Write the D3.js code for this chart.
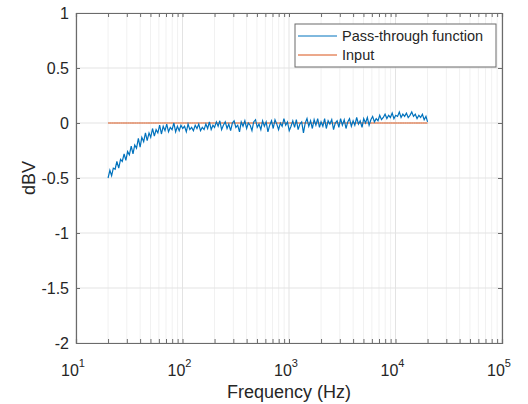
<!DOCTYPE html>
<html>
<head>
    <title></title>
    <script src="https://d3js.org/d3.v7.min.js"></script>
    <style>
        body { margin: 0; background: #fff; }
        text { font-family: Arial, 'Liberation Sans', sans-serif; fill: #262626; }
    </style>
</head>
<body>
    <svg width="528" height="404" id="svg1"></svg>
<script>
// frequencies (Hz) of the measured points
var freq = [
    20.0, 20.8, 21.6, 22.4, 23.3, 24.2, 25.2, 26.2, 27.2, 28.3,
    29.4, 30.5, 31.7, 33.0, 34.3, 35.6, 37.0, 38.5, 40.0, 41.5,
    43.2, 44.9, 46.6, 48.5, 50.3, 52.3, 54.4, 56.5, 58.7, 61.0,
    63.4, 65.9, 68.5, 71.1, 73.9, 76.8, 79.8, 83.0, 86.2, 89.6,
    93.1, 96.7, 100.5, 104.5, 108.6, 112.8, 117.2, 121.8, 126.6, 131.6,
    136.7, 142.1, 147.6, 153.4, 159.4, 165.7, 172.2, 178.9, 185.9, 193.2,
    200, 208, 216, 224, 233, 242, 252, 262, 272, 283,
    294, 305, 317, 330, 343, 356, 370, 385, 400, 415,
    432, 449, 466, 485, 503, 523, 544, 565, 587, 610,
    634, 659, 685, 711, 739, 768, 798, 830, 862, 896,
    931, 967, 1005, 1045, 1086, 1128, 1172, 1218, 1266, 1316,
    1367, 1421, 1476, 1534, 1594, 1657, 1722, 1789, 1859, 1932,
    2000, 2080, 2160, 2240, 2330, 2420, 2520, 2620, 2720, 2830,
    2940, 3050, 3170, 3300, 3430, 3560, 3700, 3850, 4000, 4150,
    4320, 4490, 4660, 4850, 5030, 5230, 5440, 5650, 5870, 6100,
    6340, 6590, 6850, 7110, 7390, 7680, 7980, 8300, 8620, 8960,
    9310, 9670, 10050, 10450, 10860, 11280, 11720, 12180, 12660, 13160,
    13670, 14210, 14760, 15340, 15940, 16570, 17220, 17890, 18590, 19320,
    20000
];

// pass-through function response (dBV)
var passThrough = [
    -0.50, -0.43, -0.48, -0.41, -0.42, -0.35, -0.41, -0.33, -0.35, -0.28,
    -0.34, -0.26, -0.29, -0.21, -0.28, -0.20, -0.23, -0.14, -0.22, -0.13,
    -0.17, -0.09, -0.16, -0.09, -0.13, -0.05, -0.12, -0.06, -0.09, -0.02,
    -0.10, -0.03, -0.07, -0.01, -0.08, -0.04, -0.06, 0.00, -0.08, -0.03,
    -0.07, -0.02, -0.05, -0.03, -0.08, -0.01, -0.06, -0.04, -0.07, -0.02,
    -0.05, -0.01, -0.07, -0.04, -0.06, -0.01, -0.05, 0.01, -0.06, -0.02,
    -0.04, 0.01, -0.03, 0.02, -0.06, -0.02, 0.01, -0.05, -0.01, -0.07,
    0.00, 0.02, -0.04, -0.02, -0.08, 0.01, -0.03, 0.02, -0.05, 0.00,
    -0.02, -0.07, 0.01, 0.03, -0.04, -0.01, -0.06, 0.02, -0.03, 0.01,
    -0.08, -0.02, 0.02, -0.05, 0.03, -0.01, -0.06, 0.00, -0.03, 0.04,
    -0.02, 0.01, -0.07, -0.03, 0.02, -0.04, 0.03, -0.06, -0.01, 0.01,
    -0.09, 0.00, 0.04, -0.03, 0.02, -0.05, 0.03, -0.02, 0.04, -0.04,
    0.01, -0.03, 0.04, -0.05, 0.02, -0.01, 0.03, -0.06, 0.00, 0.02,
    -0.04, 0.04, -0.02, 0.03, -0.05, 0.01, 0.04, -0.03, 0.02, -0.02,
    0.05, -0.01, 0.02, -0.04, 0.04, 0.00, 0.05, -0.02, 0.03, 0.06,
    0.01, 0.04, 0.02, 0.07, 0.03, 0.05, 0.08, 0.04, 0.07, 0.05,
    0.09, 0.04, 0.07, 0.06, 0.10, 0.05, 0.08, 0.06, 0.09, 0.05,
    0.07, 0.10, 0.06, 0.08, 0.04, 0.07, 0.05, 0.08, 0.03, 0.06,
    0.01
];

// input level (dBV), same frequencies
var inputLevel = freq.map(function(){ return 0; });

var yTicks = [-2, -1.5, -1, -0.5, 0, 0.5, 1];
var xTicks = [10, 100, 1000, 10000, 100000];
var seriesNames = ['Pass-through function', 'Input'];
var colors = ['#0072BD', '#D95319'];

var svg1 = d3.select('#svg1'),
    mLeft = 76, mRight = 502, mTop = 13, mBottom = 343;

var x = d3.scaleLog().domain([10, 100000]).range([mLeft, mRight]);
var y = d3.scaleLinear().domain([-2, 1]).range([mBottom, mTop]);

// minor positions 2..9 of each decade
var minor = [];
xTicks.slice(0, -1).forEach(function(d){
    for (var k = 2; k < 10; k++) minor.push(d * k);
});

var grid = svg1.append('g');
grid.selectAll('.minor')
    .data(minor)
    .enter()
    .append('line')
    .attr('x1', function(d){ return x(d); })
    .attr('x2', function(d){ return x(d); })
    .attr('y1', mTop).attr('y2', mBottom)
    .attr('stroke', '#f1f1f1')
    .attr('stroke-width', 1);
grid.selectAll('.vmajor')
    .data(xTicks)
    .enter()
    .append('line')
    .attr('x1', function(d){ return x(d); })
    .attr('x2', function(d){ return x(d); })
    .attr('y1', mTop).attr('y2', mBottom)
    .attr('stroke', '#e3e3e3');
grid.selectAll('.hmajor')
    .data(yTicks)
    .enter()
    .append('line')
    .attr('x1', mLeft).attr('x2', mRight)
    .attr('y1', function(d){ return y(d); })
    .attr('y2', function(d){ return y(d); })
    .attr('stroke', '#e3e3e3');

// lines
var line = d3.line()
    .x(function(d){ return x(d[0]); })
    .y(function(d){ return y(d[1]); });

svg1.append('path')
    .datum(d3.zip(freq, inputLevel))
    .attr('d', line)
    .attr('fill', 'none')
    .attr('stroke', colors[1])
    .attr('stroke-width', 1);

svg1.append('path')
    .datum(d3.zip(freq, passThrough))
    .attr('d', line)
    .attr('fill', 'none')
    .attr('stroke', colors[0])
    .attr('stroke-width', 1.2);

// axes box with inward ticks (MATLAB style)
var axisColor = '#6b6b6b';
var bx = svg1.append('g')
    .attr('transform', 'translate(0,' + mBottom + ')')
    .call(d3.axisBottom(x).tickValues(xTicks.concat(minor)).tickSize(-4).tickFormat(''));
var tx = svg1.append('g')
    .attr('transform', 'translate(0,' + mTop + ')')
    .call(d3.axisTop(x).tickValues(xTicks.concat(minor)).tickSize(-4).tickFormat(''));
var ly = svg1.append('g')
    .attr('transform', 'translate(' + mLeft + ',0)')
    .call(d3.axisLeft(y).tickValues(yTicks).tickSize(-4).tickFormat(''));
var ry = svg1.append('g')
    .attr('transform', 'translate(' + mRight + ',0)')
    .call(d3.axisRight(y).tickValues(yTicks).tickSize(-4).tickFormat(''));
[bx, tx, ly, ry].forEach(function(g){
    g.selectAll('path').attr('stroke', axisColor).attr('stroke-width', 1.2);
    g.selectAll('line').attr('stroke', axisColor);
});

// y tick labels
svg1.selectAll('.ylab')
    .data(yTicks)
    .enter()
    .append('text')
    .attr('x', mLeft - 7)
    .attr('y', function(d){ return y(d); })
    .attr('dy', '0.35em')
    .attr('text-anchor', 'end')
    .attr('font-size', 16)
    .text(function(d){ return d; });

// x tick labels: 10^n
var xl = svg1.selectAll('.xlab')
    .data(xTicks)
    .enter()
    .append('text')
    .attr('x', function(d){ return x(d) - 3; })
    .attr('y', 376)
    .attr('text-anchor', 'middle')
    .attr('font-size', 16);
xl.append('tspan').text('10');
xl.append('tspan')
    .attr('dy', -9)
    .attr('font-size', 11)
    .text(function(d){ return Math.round(Math.log10(d)); });

// axis titles
svg1.append('text')
    .attr('x', (mLeft + mRight) / 2)
    .attr('y', 398)
    .attr('text-anchor', 'middle')
    .attr('font-size', 18)
    .text('Frequency (Hz)');
svg1.append('text')
    .attr('transform', 'translate(35,' + ((mTop + mBottom) / 2) + ') rotate(-90)')
    .attr('text-anchor', 'middle')
    .attr('font-size', 18)
    .text('dBV');

// legend
var legend = svg1.append('g');
legend.append('rect')
    .attr('x', 295).attr('y', 24)
    .attr('width', 201).attr('height', 43)
    .attr('fill', '#fff')
    .attr('stroke', axisColor);
var items = legend.selectAll('.item')
    .data(seriesNames)
    .enter()
    .append('g')
    .attr('transform', function(d, i){ return 'translate(0,' + (36 + i * 19) + ')'; });
items.append('line')
    .attr('x1', 298).attr('x2', 337)
    .attr('stroke', function(d, i){ return colors[i]; })
    .attr('stroke-width', 1);
items.append('text')
    .attr('x', 342)
    .attr('dy', '0.35em')
    .attr('font-size', 14.5)
    .text(function(d){ return d; });
</script>
</body>
</html>
